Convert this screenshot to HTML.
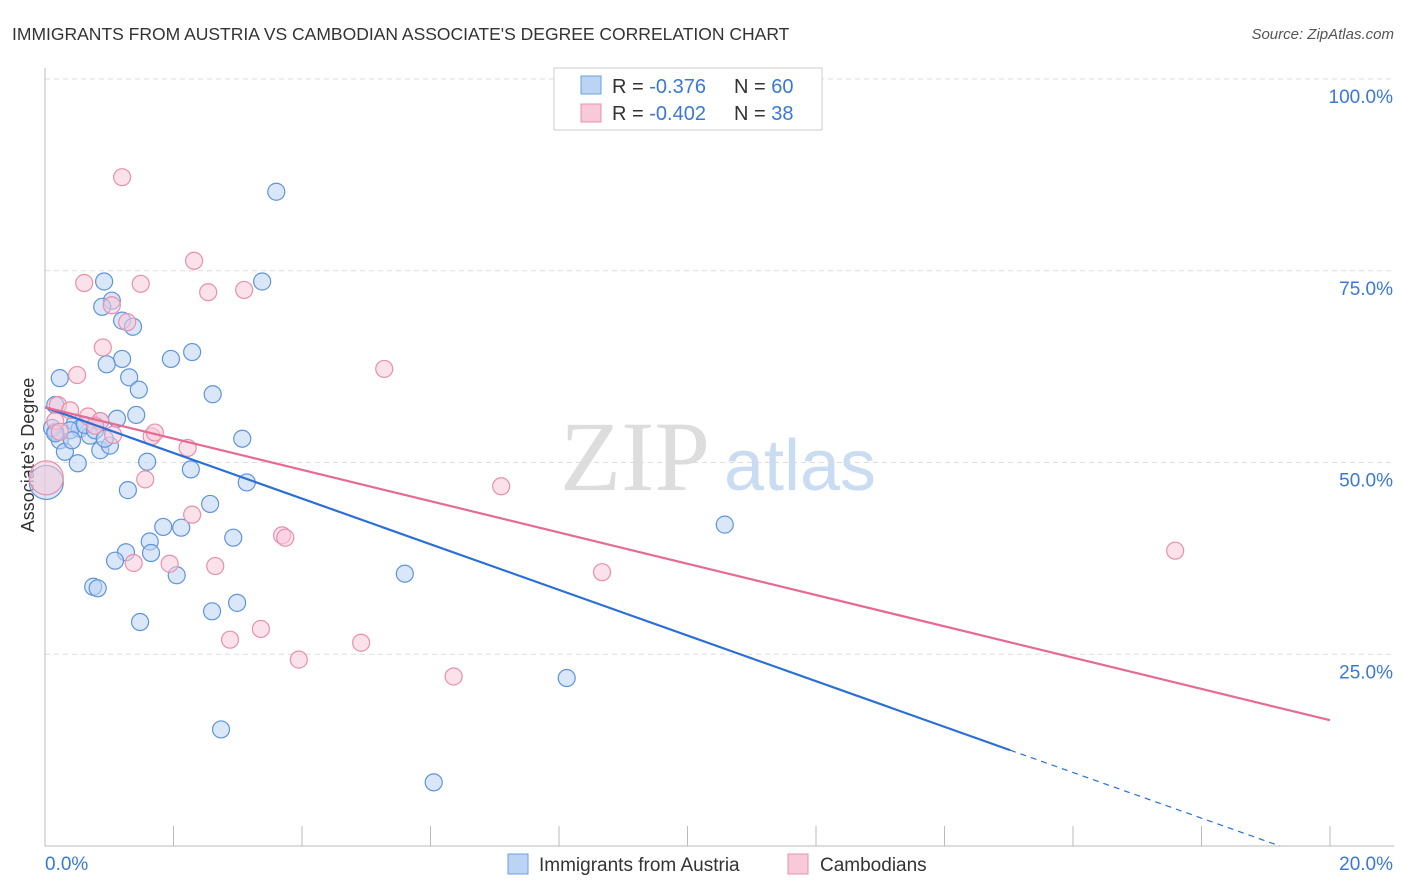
<!DOCTYPE html>
<html><head><meta charset="utf-8">
<style>
body{margin:0;background:#fff;font-family:"Liberation Sans",sans-serif;}
#wrap{position:relative;width:1406px;height:892px;overflow:hidden;}
</style></head>
<body>
<div id="wrap">
<svg id="svg" width="1406" height="892" xmlns="http://www.w3.org/2000/svg">
<text x="12" y="40" font-size="17.5" fill="#333">IMMIGRANTS FROM AUSTRIA VS CAMBODIAN ASSOCIATE'S DEGREE CORRELATION CHART</text>
<text x="1394" y="39" font-size="15" fill="#555" font-style="italic" text-anchor="end">Source: ZipAtlas.com</text>
<text x="635" y="490" font-size="100" fill="#ddd" font-family="Liberation Serif" text-anchor="middle">ZIP</text>
<text x="800" y="490" font-size="72" fill="#c9dcf2" text-anchor="middle">atlas</text>
<text transform="translate(34,455) rotate(-90)" font-size="18" fill="#333" text-anchor="middle">Associate's Degree</text>
<g id="grid"></g><g id="pts"></g><g id="lines"></g>
<g>
<rect x="554" y="68" width="268" height="62" fill="#fff" stroke="#ccc"/>
<rect x="581" y="76" width="20" height="18" fill="#bcd4f4" stroke="#6c9ee0"/>
<rect x="581" y="104" width="20" height="18" fill="#f8c9d8" stroke="#e890ac"/>
<text x="612" y="93" font-size="20" fill="#333">R = <tspan fill="#3a78d8">-0.376</tspan></text>
<text x="734" y="93" font-size="20" fill="#333">N = <tspan fill="#3a78d8">60</tspan></text>
<text x="612" y="120" font-size="20" fill="#333">R = <tspan fill="#3a78d8">-0.402</tspan></text>
<text x="734" y="120" font-size="20" fill="#333">N = <tspan fill="#3a78d8">38</tspan></text>
</g>
<g>
<rect x="508" y="854" width="20" height="20" fill="#bcd4f4" stroke="#6c9ee0"/>
<text x="539" y="871" font-size="19" fill="#333">Immigrants from Austria</text>
<rect x="788" y="854" width="20" height="20" fill="#f8c9d8" stroke="#e890ac"/>
<text x="820" y="871" font-size="19" fill="#333">Cambodians</text>
</g>
</svg>
</div>
<script>
const blueX=[3.6,0.92,3.38,1.04,0.89,1.2,1.37,2.29,1.2,1.96,0.96,0.23,1.31,1.46,2.61,0.16,1.12,1.42,0.47,0.16,0.54,0.7,0.23,0.31,0.86,1.01,1.59,0.51,2.27,3.07,3.14,0.02,1.29,2.57,10.58,1.84,2.12,1.63,2.93,1.26,1.65,1.09,2.05,5.6,0.75,0.82,2.99,2.6,1.48,8.12,2.74,6.05,0.11,0.39,0.62,0.78,0.16,0.42,0.93,0.86];
const blueY=[85.3,73.6,73.6,71.1,70.3,68.5,67.7,64.4,63.5,63.5,62.8,61,61.1,59.5,58.9,57.5,55.7,56.2,55.2,54,54.4,53.5,52.9,51.4,51.6,52.2,50.1,49.9,49.1,53.1,47.4,47.4,46.4,44.6,41.9,41.6,41.5,39.7,40.2,38.3,38.2,37.2,35.3,35.5,33.8,33.6,31.7,30.6,29.2,21.9,15.2,8.3,54.5,54.2,54.9,54.2,53.8,52.9,53.1,55.4];
const pinkX=[1.2,2.32,0.61,1.49,2.54,3.1,1.04,1.28,0.9,0.5,5.28,0.2,0.39,0.67,0.86,1.06,1.66,1.71,2.22,1.56,7.1,0.02,2.29,3.69,3.74,1.38,1.94,2.65,8.67,17.59,3.36,2.88,3.95,4.92,6.36,0.16,0.78,0.23];
const pinkY=[87.2,76.3,73.4,73.3,72.2,72.5,70.5,68.3,65,61.4,62.2,57.5,56.8,56,55.4,53.6,53.4,53.9,51.9,47.8,46.9,48,43.2,40.5,40.2,36.9,36.8,36.5,35.7,38.5,28.3,26.9,24.3,26.5,22.1,55.4,54.8,54];
const blueFit=[57.2,-2.976],pinkFit=[57.2,-2.04];
const yTicks=[25,50,75,100];
const x0=45,x1=1330,y0=846,yTop=79;
const sx=v=>x0+v/20*(x1-x0), sy=v=>y0-v/100*(y0-yTop);
const NS='http://www.w3.org/2000/svg';
function mk(tag,attrs,parent){const e=document.createElementNS(NS,tag);for(const k in attrs)e.setAttribute(k,attrs[k]);parent.appendChild(e);return e;}
const g=document.getElementById('grid'),svg=document.getElementById('svg');
yTicks.forEach(t=>{
 const l=mk('line',{x1:45,x2:1394,y1:sy(t),y2:sy(t),stroke:'#ddd','stroke-dasharray':'5,4'},g);
 
 
 const tx=mk('text',{x:1393,y:sy(t)+24,'font-size':19,fill:'#3a78d8','text-anchor':'end'},g);
 tx.textContent=t.toFixed(1)+'%';
 
 
});
const ax=mk('line',{x1:45,x2:45,y1:68,y2:846,stroke:'#bbb'},g);


const bx=mk('line',{x1:45,x2:1394,y1:846,y2:846,stroke:'#bbb'},g);


for(let i=1;i<=10;i++){const xx=45+i*128.5;const t=mk('line',{x1:xx,x2:xx,y1:826,y2:846,stroke:'#bbb'},g);
 
 }
[['0.0%',45,'start'],['20.0%',1393,'end']].forEach(([s,x,a])=>{const t=mk('text',{x:x,y:870,'font-size':19,fill:'#3a78d8','text-anchor':a},g);t.textContent=s;
 
 });
const p=document.getElementById('pts');
function dots(X,Y,fill,stroke,name){X.forEach((x,i)=>{const big=x<0.05;
 const c=mk('circle',{cx:sx(x),cy:sy(Y[i]),r:big?17:8.5,fill:fill,'fill-opacity':0.55,stroke:stroke,'stroke-width':1.2},p);
 
 });}
dots(blueX,blueY,'#bcd4f4','#5e94dc','point-austria');
dots(pinkX,pinkY,'#f8c9d8','#e890ac','point-cambodian');
const L=document.getElementById('lines');
const bEnd=15.02,bZero=-blueFit[0]/blueFit[1];
let e=mk('line',{x1:sx(0),y1:sy(blueFit[0]),x2:sx(bEnd),y2:sy(blueFit[0]+blueFit[1]*bEnd),stroke:'#2a6fd6','stroke-width':2.2},L);


e=mk('line',{x1:sx(bEnd),y1:sy(blueFit[0]+blueFit[1]*bEnd),x2:sx(bZero),y2:sy(0),stroke:'#2a6fd6','stroke-width':1.2,'stroke-dasharray':'6,5'},L);


e=mk('line',{x1:sx(0),y1:sy(pinkFit[0]),x2:sx(20),y2:sy(pinkFit[0]+pinkFit[1]*20),stroke:'#e66a92','stroke-width':2.2},L);


</script>
</body></html>
